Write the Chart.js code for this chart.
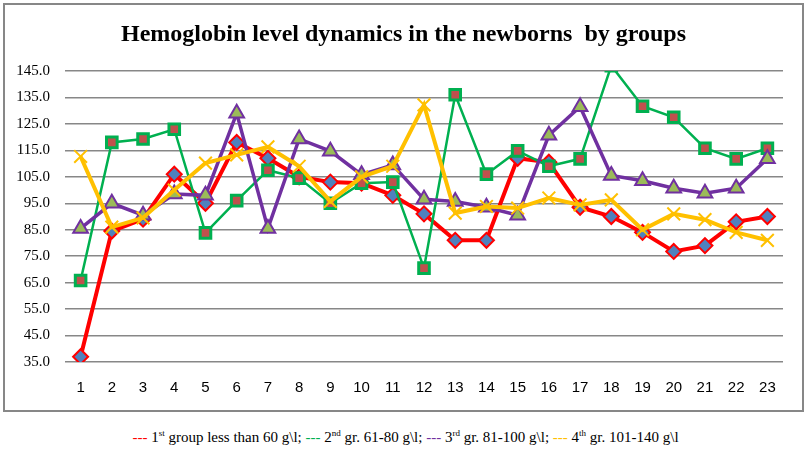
<!DOCTYPE html>
<html>
<head>
<meta charset="utf-8">
<script src="https://cdn.jsdelivr.net/npm/chart.js@4/dist/chart.umd.min.js"></script>
<style>
  body { margin: 0; width: 811px; height: 454px; background: #fff; position: relative; overflow: hidden; }
  #box { position: absolute; left: 3px; top: 3px; width: 797px; height: 405px; border: 2px solid #878787; }
  #legendText { position: absolute; left: 0; width: 811px; top: 428px; text-align: center;
    font-family: "Liberation Serif", serif; font-size: 15px; color: #000; }
  #legendText sup { font-size: 9px; }
</style>
</head>
<body>
<div id="box"><canvas id="myChart" width="797" height="405"></canvas></div>
<div id="legendText">
  <span style="color:#ff0000">---</span> 1<sup>st</sup> group less than 60 g\l;
  <span style="color:#00b050">---</span> 2<sup>nd</sup> gr. 61-80 g\l;
  <span style="color:#7030a0">---</span> 3<sup>rd</sup> gr. 81-100 g\l;
  <span style="color:#ffc000">---</span> 4<sup>th</sup> gr. 101-140 g\l
</div>
<script>
const days = ['1','2','3','4','5','6','7','8','9','10','11','12','13','14','15','16','17','18','19','20','21','22','23'];

const group1 = [37, 84.5, 89, 106, 95, 118, 112, 105, 103, 102.6, 98, 91, 81, 81, 112, 110.5, 93.5, 90, 84, 76.8, 79, 88, 90];
const group2 = [65.8, 118, 119.3, 123, 83.8, 96, 107.5, 104.5, 95, 102.6, 103, 70.5, 136, 106, 114.8, 109, 111.8, 147, 131.7, 127.5, 115.8, 111.8, 115.8];
const group3 = [85.5, 95, 90.5, 98.5, 98, 129, 85.5, 119.3, 114.7, 105.8, 109.5, 96.5, 95.7, 93.5, 90.5, 120.7, 131.5, 105.5, 103.5, 100.7, 98.8, 100.7, 111.8];
const group4 = [112.7, 86, 89.5, 100, 110.2, 113.3, 116.3, 109, 95.7, 105, 109, 132.2, 91.3, 93.8, 93.2, 97, 94.4, 96.3, 85, 91, 88.8, 84, 81];

const yTicks = [35, 45, 55, 65, 75, 85, 95, 105, 115, 125, 135, 145];

const ctx = document.getElementById('myChart').getContext('2d');
const myChart = new Chart(ctx, {
    type: 'line',
    data: {
        labels: days,
        datasets: [{
            label: '1st group less than 60 g\\l',
            data: group1,
            borderColor: '#ff0000',
            borderWidth: 4,
            pointStyle: 'rectRot',
            pointRadius: 7.5,
            pointBackgroundColor: '#4f81bd',
            pointBorderColor: '#ff0000',
            pointBorderWidth: 2,
            order: 3
        }, {
            label: '2nd gr. 61-80 g\\l',
            data: group2,
            borderColor: '#00b050',
            borderWidth: 2.5,
            pointStyle: 'rect',
            pointRadius: 7.5,
            pointBackgroundColor: '#c0504d',
            pointBorderColor: '#00b050',
            pointBorderWidth: 3,
            order: 2
        }, {
            label: '3rd gr. 81-100 g\\l',
            data: group3,
            borderColor: '#7030a0',
            borderWidth: 3.5,
            pointStyle: 'triangle',
            pointRadius: 8.5,
            pointBackgroundColor: '#9bbb59',
            pointBorderColor: '#7030a0',
            pointBorderWidth: 2,
            order: 1
        }, {
            label: '4th gr. 101-140 g\\l',
            data: group4,
            borderColor: '#ffc000',
            borderWidth: 4,
            pointStyle: 'crossRot',
            pointRadius: 9,
            pointBorderColor: '#ffc000',
            pointBorderWidth: 2,
            order: 0
        }]
    },
    options: {
        responsive: false,
        animation: false,
        layout: { padding: { left: 0, right: 0, top: 0, bottom: 13 } },
        plugins: {
            legend: { display: false },
            tooltip: { enabled: false },
            title: {
                display: true,
                text: 'Hemoglobin level dynamics in the newborns  by groups',
                color: '#000',
                font: { family: '"Liberation Serif", serif', size: 24, weight: 'bold' },
                padding: { top: 15.6, bottom: 21.6 }
            }
        },
        scales: {
            x: {
                offset: true,
                afterFit: function (scale) { scale.height = 35; },
                grid: { display: false, drawTicks: false },
                border: { display: false },
                ticks: {
                    color: '#000',
                    padding: 17,
                    maxRotation: 0,
                    font: { family: '"Liberation Sans", sans-serif', size: 15 }
                }
            },
            y: {
                min: 35,
                max: 145,
                afterFit: function (scale) { scale.width = 60; },
                afterBuildTicks: function (scale) { scale.ticks = yTicks.map(v => ({ value: v })); },
                grid: { color: '#878787', lineWidth: 1.5, drawTicks: false },
                border: { display: false },
                ticks: {
                    color: '#000',
                    padding: 15,
                    font: { family: '"Liberation Serif", serif', size: 15 },
                    callback: v => Number(v).toFixed(1)
                }
            },
            // empty right-hand spacer so the plot ends where the original one does
            yRight: {
                type: 'linear',
                position: 'right',
                afterFit: function (scale) { scale.width = 19; },
                grid: { display: false, drawTicks: false },
                border: { display: false },
                ticks: { display: false }
            }
        }
    }
});
</script>
</body>
</html>
